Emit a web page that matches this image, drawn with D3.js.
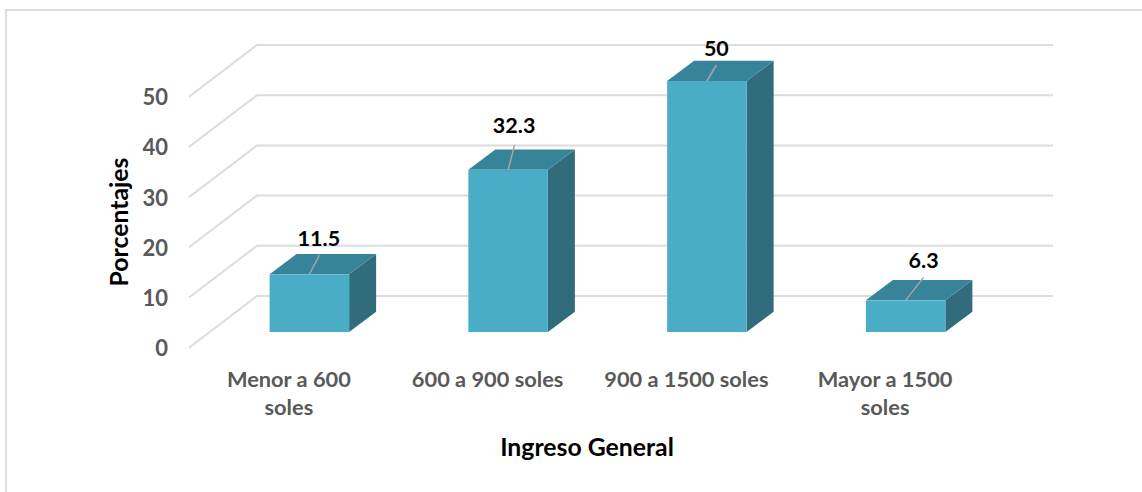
<!DOCTYPE html>
<html>
<head>
<meta charset="utf-8">
<script src="https://cdn.jsdelivr.net/npm/d3@7"></script>
<style>
html,body{margin:0;padding:0;background:#fff}
svg{display:block}
text{font-family:Lato,"Noto Sans",sans-serif;font-weight:700}
</style>
</head>
<body>
<svg id="chart" width="1142" height="492"></svg>
<script>
const categories = ["Menor a 600 soles", "600 a 900 soles", "900 a 1500 soles", "Mayor a 1500 soles"];
const categoryLines = [["Menor a 600", "soles"], ["600 a 900 soles"], ["900 a 1500 soles"], ["Mayor a 1500", "soles"]];
const values = [11.5, 32.3, 50, 6.3];
const valueLabels = ["11.5", "32.3", "50", "6.3"];
const yTicks = [0, 10, 20, 30, 40, 50];
const xTitle = "Ingreso General";
const yTitle = "Porcentajes";

// layout
const W = 1142, H = 492;
const labelShift = [[9.5, -36], [6, -44], [9.5, -33], [18, -40]];
const leaderShift = [[10, -19], [6.5, -25], [9.5, -16], [18, -23]];
const floorDepth = {dx: 68, dy: -51.7};
const barDepth = {dx: 27, dy: -20.3};
const colors = {front: "#4aadc8", top: "#37839a", side: "#316c7c", grid: "#dcdcdc", tick: "#595959"};

const svg = d3.select("#chart");

// outer frame
svg.append("path").attr("d", d3.line()([[6, H], [6, 10], [W, 10]]))
  .attr("fill", "none").attr("stroke", "#dedede").attr("stroke-width", 2);

const yFront = d3.scaleLinear().domain([0, 50]).range([347.7, 96.7]);
const yBar = d3.scaleLinear().domain([0, 50]).range([332, 81]);
const x = d3.scaleBand().domain(categories).range([210, 1005]).paddingInner(0.6).paddingOuter(0.3);

// gridlines: side wall + back wall
const grid = svg.append("g").attr("fill", "none").attr("stroke", colors.grid).attr("stroke-width", 2);
grid.selectAll("path").data(yTicks).join("path")
  .attr("d", t => d3.line()([
    [189, yFront(t)],
    [189 + floorDepth.dx, yFront(t) + floorDepth.dy],
    [1053, yFront(t) + floorDepth.dy]
  ]));

// y axis
const yAxis = svg.append("g").attr("transform", "translate(174,1)")
  .call(d3.axisLeft(yFront).tickValues(yTicks).tickSize(0).tickPadding(6));
yAxis.select(".domain").remove();
yAxis.selectAll("text").attr("fill", colors.tick).attr("font-size", 22).attr("font-family", "Lato").attr("font-weight", 700).attr("dy", "0.32em");

// bars
const bars = svg.append("g").selectAll("g").data(categories).join("g");
bars.append("path").attr("fill", colors.side).attr("d", (c, i) => {
  const xr = x(c) + x.bandwidth(), t = yBar(values[i]), b = yBar(0);
  return d3.line()([[xr, t], [xr + barDepth.dx, t + barDepth.dy], [xr + barDepth.dx, b + barDepth.dy], [xr, b]]) + "Z";
});
bars.append("path").attr("fill", colors.top).attr("d", (c, i) => {
  const xl = x(c), xr = xl + x.bandwidth(), t = yBar(values[i]);
  return d3.line()([[xl, t], [xl + barDepth.dx, t + barDepth.dy], [xr + barDepth.dx, t + barDepth.dy], [xr, t]]) + "Z";
});
bars.append("rect").attr("fill", colors.front)
  .attr("x", c => x(c)).attr("width", x.bandwidth())
  .attr("y", (c, i) => yBar(values[i])).attr("height", (c, i) => yBar(0) - yBar(values[i]));

// leader lines
bars.append("line").attr("stroke", "#a6a6a6").attr("stroke-width", 1.5)
  .attr("x1", c => x(c) + x.bandwidth() / 2)
  .attr("y1", (c, i) => yBar(values[i]))
  .attr("x2", (c, i) => x(c) + x.bandwidth() / 2 + leaderShift[i][0])
  .attr("y2", (c, i) => yBar(values[i]) + leaderShift[i][1]);

// value labels
bars.append("text").attr("text-anchor", "middle").attr("fill", "#000").attr("font-size", 21.5)
  .attr("x", (c, i) => x(c) + x.bandwidth() / 2 + labelShift[i][0])
  .attr("y", (c, i) => yBar(values[i]) + labelShift[i][1])
  .attr("dy", "0.35em")
  .text((c, i) => valueLabels[i]);

// category labels
const cat = svg.append("g").selectAll("text").data(categories).join("text")
  .attr("text-anchor", "middle").attr("fill", colors.tick).attr("font-size", 21.8);
cat.selectAll("tspan").data((c, i) => categoryLines[i].map(l => ({l, c}))).join("tspan")
  .attr("x", d => x(d.c) + x.bandwidth() / 2 - 20.5)
  .attr("y", (d, j) => 387 + j * 28)
  .text(d => d.l);

// axis titles
svg.append("text").attr("text-anchor", "middle").attr("x", 587).attr("y", 456)
  .attr("fill", "#000").attr("font-size", 24.8).text(xTitle);
svg.append("text").attr("text-anchor", "middle").attr("transform", "translate(128,222) rotate(-90)")
  .attr("fill", "#000").attr("font-size", 24.8).text(yTitle);
</script>
</body>
</html>
